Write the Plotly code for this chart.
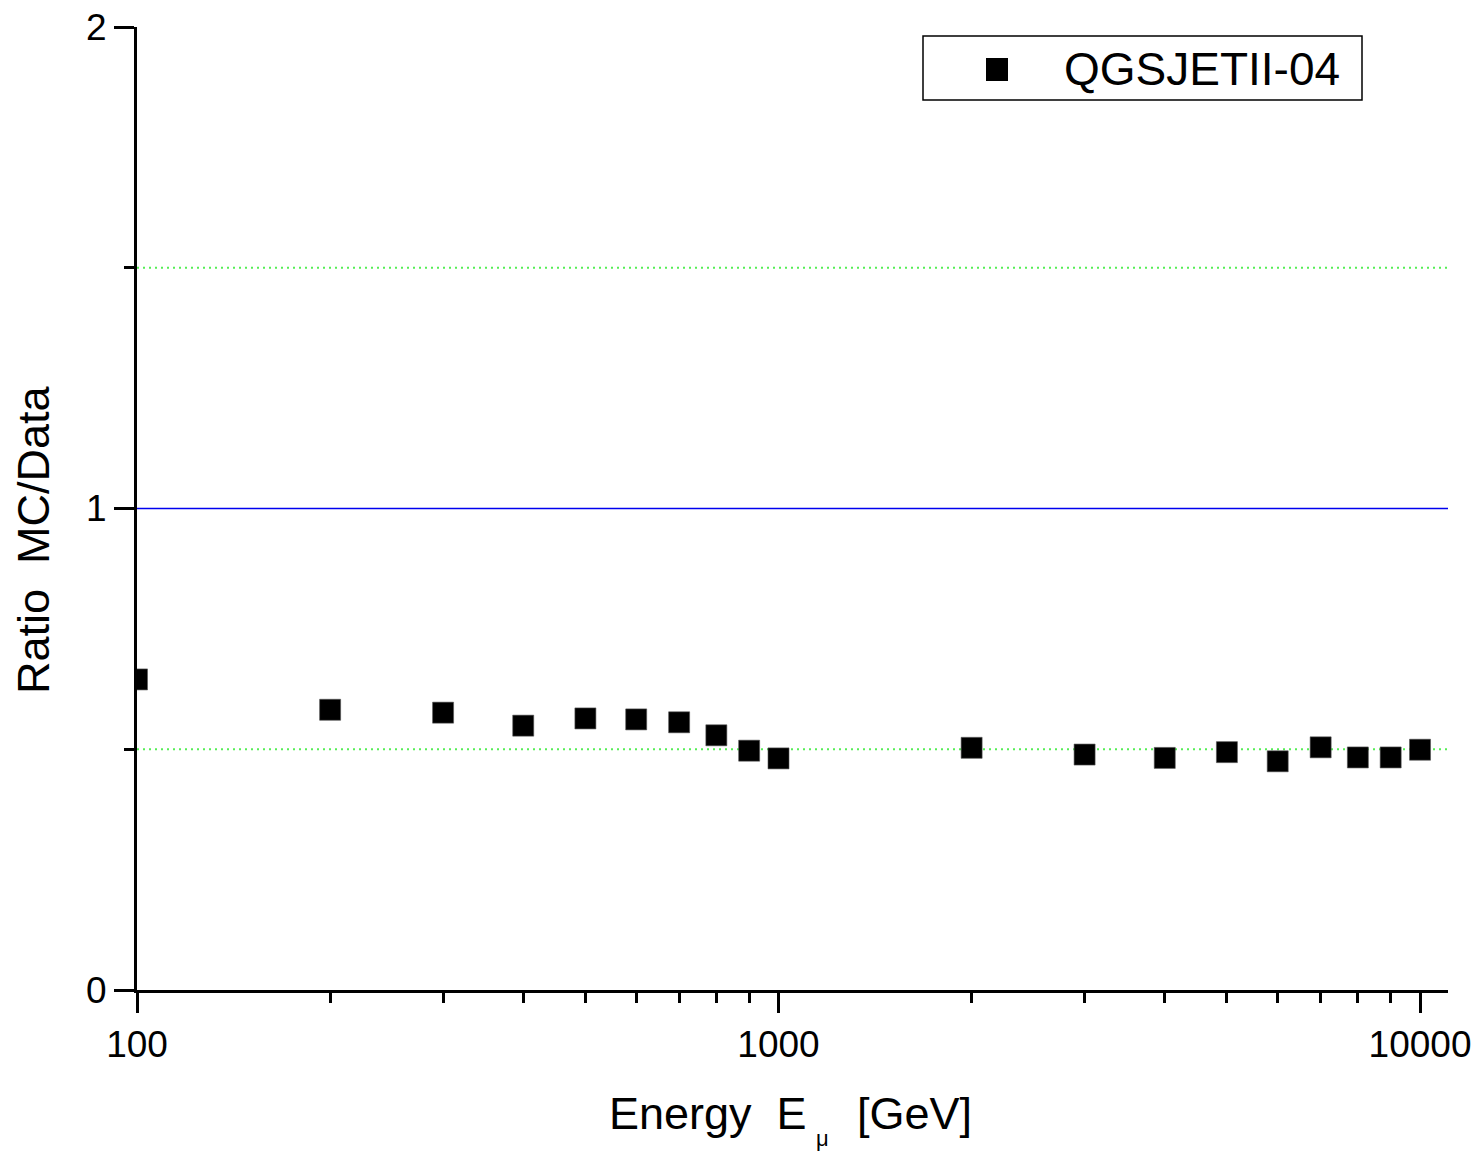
import plotly.graph_objects as go

# Muon energies (GeV) and the MC/Data ratio for QGSJETII-04
energy = [100, 200, 300, 400, 500, 600, 700, 800, 900, 1000,
          2000, 3000, 4000, 5000, 6000, 7000, 8000, 9000, 10000]
ratio = [0.645, 0.582, 0.576, 0.549, 0.564, 0.562, 0.556, 0.529, 0.497, 0.481,
         0.503, 0.489, 0.482, 0.494, 0.475, 0.504, 0.483, 0.483, 0.499]
series_name = "QGSJETII-04"

x_tick_vals = [100, 1000, 10000]
x_tick_text = ["100", "1000", "10000"]
x_minor_vals = [200, 300, 400, 500, 600, 700, 800, 900,
                2000, 3000, 4000, 5000, 6000, 7000, 8000, 9000]
y_tick_vals = [0, 1, 2]
y_tick_text = ["0", "1", "2"]
y_minor_vals = [0.5, 1.5]

reference_level = 1.0
guide_levels = [0.5, 1.5]

FONT = "Liberation Sans, Arial, sans-serif"
NB = "\u00a0"

W, H = 1484, 1154
ML, MR, MT, MB = 137, 36, 27, 164
PW, PH = W - ML - MR, H - MT - MB


def px_x(p):
    """pixel column -> paper x"""
    return (p - ML) / PW


def px_y(p):
    """pixel row -> paper y"""
    return (H - MB - p) / PH


fig = go.Figure()
fig.add_trace(go.Scatter(
    x=energy, y=ratio, mode="markers", name=series_name, showlegend=False,
    marker=dict(symbol="square", size=21, color="black",
                line=dict(width=0.6, color="#555555")),
))

# horizontal guide lines
for lvl in guide_levels:
    fig.add_shape(type="line", xref="paper", yref="y", x0=0, x1=1, y0=lvl, y1=lvl,
                  line=dict(color="#55ee55", width=2, dash="2px,4px"), layer="below")
fig.add_shape(type="line", xref="paper", yref="y", x0=0, x1=1,
              y0=reference_level, y1=reference_level,
              line=dict(color="#0000ee", width=1.5), layer="below")

# legend box with symbol and label
fig.add_shape(type="rect", xref="paper", yref="paper",
              x0=px_x(923), x1=px_x(1362), y0=px_y(100), y1=px_y(36),
              line=dict(color="black", width=1.5), fillcolor="white", layer="above")
fig.add_shape(type="rect", xref="paper", yref="paper",
              xsizemode="pixel", ysizemode="pixel",
              xanchor=px_x(997), yanchor=px_y(69.5),
              x0=-11, x1=11, y0=-11.5, y1=11.5,
              line=dict(width=0), fillcolor="black", layer="above")
fig.add_annotation(text=series_name, xref="paper", yref="paper",
                   x=px_x(1062), y=px_y(69), xanchor="left", yanchor="middle",
                   showarrow=False, font=dict(size=46, family=FONT, color="black"))

# axis titles
fig.add_annotation(text=f"Ratio{NB}{NB}MC/Data", xref="paper", yref="paper",
                   x=px_x(33), y=px_y(540), xanchor="center", yanchor="middle",
                   textangle=-90, showarrow=False,
                   font=dict(size=45, family=FONT, color="black"))
fig.add_annotation(text=f"Energy{NB}{NB}E", xref="paper", yref="paper",
                   x=px_x(809), y=px_y(1113), xanchor="right", yanchor="middle",
                   showarrow=False, font=dict(size=45, family=FONT, color="black"))
fig.add_annotation(text="μ", xref="paper", yref="paper",
                   x=px_x(822), y=px_y(1138), xanchor="center", yanchor="middle",
                   showarrow=False, font=dict(size=22, family=FONT, color="black"))
fig.add_annotation(text="[GeV]", xref="paper", yref="paper",
                   x=px_x(855), y=px_y(1113), xanchor="left", yanchor="middle",
                   showarrow=False, font=dict(size=45, family=FONT, color="black"))

fig.update_layout(
    width=W, height=H,
    margin=dict(l=ML, r=MR, t=MT, b=MB, autoexpand=False),
    paper_bgcolor="white", plot_bgcolor="white",
    font=dict(family=FONT, color="black"),
    showlegend=False,
)

fig.update_xaxes(
    type="log", range=[2, 4.0436], automargin=False,
    showgrid=False, zeroline=False,
    showline=True, linecolor="black", linewidth=3,
    ticks="outside", ticklen=20, tickwidth=3, tickcolor="black",
    tickmode="array", tickvals=x_tick_vals, ticktext=x_tick_text,
    tickfont=dict(size=37, family=FONT),
    minor=dict(ticks="outside", ticklen=10, tickwidth=3, tickcolor="black",
               tickmode="array", tickvals=x_minor_vals, showgrid=False),
)
fig.update_yaxes(
    range=[0, 2], automargin=False,
    showgrid=False, zeroline=False,
    showline=True, linecolor="black", linewidth=3,
    ticks="outside", ticklen=20, tickwidth=3, tickcolor="black",
    tickmode="array", tickvals=y_tick_vals, ticktext=y_tick_text,
    tickfont=dict(size=37, family=FONT),
    minor=dict(ticks="outside", ticklen=10, tickwidth=3, tickcolor="black",
               tickmode="array", tickvals=y_minor_vals, showgrid=False),
)

fig.write_html("out.html")
